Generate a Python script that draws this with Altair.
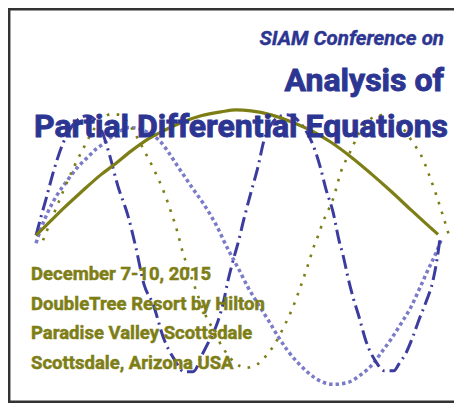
import altair as alt
import pandas as pd

# ---- data (pixel-like coordinates of the poster) ----
solid_x = [35, 50, 63, 80, 100, 113, 130, 145, 163, 180, 200, 220, 235, 250, 270, 290, 310, 330, 350, 370, 390, 410, 425, 437]
solid_y = [237, 222, 209, 193, 175, 165, 151, 140, 130, 122, 115, 111, 109, 110, 114, 121, 130, 142, 157, 174, 192, 211, 225, 236]

olive_dot_x = [42, 46, 50, 56, 63, 73, 83, 92, 100, 110, 118, 127, 135, 143, 153, 163, 170, 176, 182, 188, 195, 203, 212, 222, 233, 245, 257, 265, 273, 283, 292, 300, 307, 313, 318, 322, 327, 332, 340, 350, 358, 366, 375, 385, 395, 405, 413, 420, 428, 435, 442, 448]
olive_dot_y = [242, 232, 222, 207, 190, 167, 147, 130, 120, 113, 114, 122, 135, 150, 170, 193, 213, 232, 255, 273, 293, 315, 333, 352, 366, 372, 368, 360, 349, 330, 310, 288, 267, 248, 235, 223, 212, 200, 172, 150, 133, 122, 115, 114, 120, 132, 144, 155, 175, 195, 217, 237]

dashdot_x = [35, 40, 45, 53, 62, 70, 78, 86, 94, 101, 108, 117, 127, 135, 143, 152, 163, 173, 183, 192, 202, 208, 215, 222, 227, 232, 237, 243, 250, 257, 263, 270, 278, 286, 294, 302, 310, 315, 320, 325, 332, 338, 342, 347, 352, 358, 365, 375, 383, 393, 398, 405, 412, 418, 425, 432, 437, 439]
dashdot_y = [237, 218, 200, 170, 143, 127, 118, 115, 119, 131, 153, 187, 217, 250, 287, 307, 343, 363, 376, 376, 357, 345, 330, 307, 283, 263, 245, 220, 193, 167, 140, 124, 116, 114, 117, 126, 140, 153, 170, 190, 213, 242, 257, 280, 300, 320, 345, 366, 375, 375, 368, 357, 340, 323, 305, 283, 255, 240]

purple_dot_x = [35, 40, 47, 56, 67, 77, 87, 95, 103, 112, 120, 128, 137, 145, 152, 160, 168, 177, 185, 193, 202, 210, 218, 223, 230, 237, 247, 257, 267, 277, 287, 297, 307, 320, 333, 347, 360, 372, 380, 390, 400, 410, 420, 428, 435, 440]
purple_dot_y = [245, 230, 213, 196, 180, 167, 157, 149, 143, 135, 130, 127, 128, 131, 135, 142, 153, 167, 179, 191, 204, 217, 232, 243, 257, 270, 290, 307, 323, 340, 355, 367, 377, 386, 389, 387, 379, 368, 357, 343, 327, 310, 288, 270, 255, 242]

header_text = ["SIAM Conference on", "Analysis of", "Partial Differential Equations"]
venue_text = ["December 7-10, 2015", "DoubleTree Resort by Hilton", "Paradise Valley Scottsdale", "Scottsdale, Arizona USA"]

BLUE = "#2c3591"
DASHBLUE = "#3b3c9e"
PURPLE = "#7a7bc9"
OLIVE = "#7e7e16"
FONT = "Roboto"

W, H = 446, 395
xs = alt.Scale(domain=[7, 453], nice=False, zero=False)
ys = alt.Scale(domain=[5, 408], nice=False, zero=False, reverse=True)


def curve(xv, yv, **mark):
    df = pd.DataFrame({"x": xv, "y": yv, "i": list(range(len(xv)))})
    return alt.Chart(df).mark_line(interpolate="monotone", **mark).encode(
        x=alt.X("x:Q", scale=xs, axis=None),
        y=alt.Y("y:Q", scale=ys, axis=None),
        order="i:Q",
    )


purple = curve(purple_dot_x, purple_dot_y, color=PURPLE, strokeWidth=3.5, strokeDash=[3.5, 3])
olive_dot = curve(olive_dot_x, olive_dot_y, color=OLIVE, strokeWidth=2.6, strokeDash=[2.6, 7.5])
dashdot = curve(dashdot_x, dashdot_y, color=DASHBLUE, strokeWidth=3, strokeDash=[14, 5, 2, 5])
solid = curve(solid_x, solid_y, color=OLIVE, strokeWidth=3.2)


def txt(s, px, py, size, color, align="left", italic=False, sw=0.6):
    return alt.Chart(pd.DataFrame({"t": [s]})).mark_text(
        text=s, align=align, baseline="alphabetic", font=FONT, fontSize=size,
        fontWeight="bold", fontStyle="italic" if italic else "normal", color=color,
        stroke=color, strokeWidth=sw,
    ).encode(
        x=alt.X(datum=px, type="quantitative", scale=xs, axis=None),
        y=alt.Y(datum=py, type="quantitative", scale=ys, axis=None),
    )


texts = [
    txt(header_text[0], 443, 43, 20.5, BLUE, align="right", italic=True, sw=0.4),
    txt(header_text[1], 443, 90, 32, BLUE, align="right", sw=0.9),
    txt(header_text[2], 33, 137, 32, BLUE, align="left", sw=0.9),
    txt(venue_text[0], 30, 282, 18.5, OLIVE, sw=0.5),
    txt(venue_text[1], 30, 313, 18.5, OLIVE, sw=0.5),
    txt(venue_text[2], 30, 343, 18.5, OLIVE, sw=0.5),
    txt(venue_text[3], 30, 373, 18.5, OLIVE, sw=0.5),
]

frame_df = pd.DataFrame({"a": [0]})
frame = [
    alt.Chart(frame_df).mark_rule(color="#333333", strokeWidth=2.5).encode(
        x=alt.value(0), x2=alt.value(W), y=alt.value(1.2)),
    alt.Chart(frame_df).mark_rule(color="#333333", strokeWidth=2.5).encode(
        x=alt.value(1.2), y=alt.value(0), y2=alt.value(H)),
    alt.Chart(frame_df).mark_rule(color="#333333", strokeWidth=2.5).encode(
        x=alt.value(0), x2=alt.value(W), y=alt.value(H - 1.2)),
]

chart = alt.layer(purple, olive_dot, dashdot, solid, *texts, *frame).properties(
    width=W, height=H, padding=0, autosize=alt.AutoSizeParams(type="none"),
    background="white",
).configure_view(stroke=None)

chart.save("out.html", embed_options={"renderer": "svg", "actions": False})
